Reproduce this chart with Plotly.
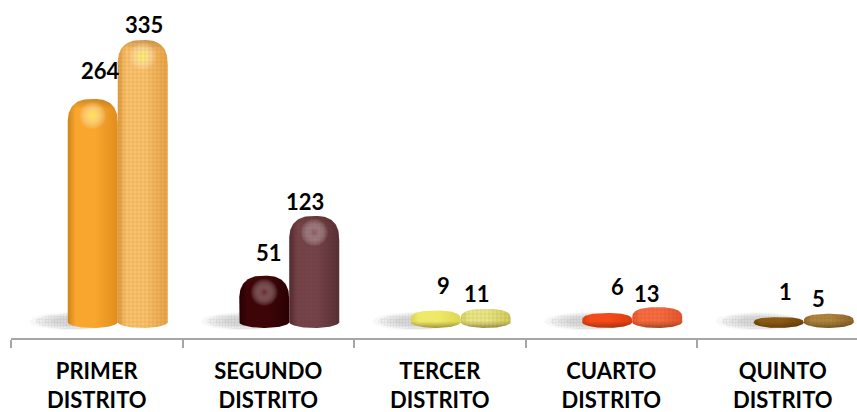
import numpy as np
import plotly.graph_objects as go

distritos = ["PRIMER<br>DISTRITO", "SEGUNDO<br>DISTRITO", "TERCER<br>DISTRITO", "CUARTO<br>DISTRITO", "QUINTO<br>DISTRITO"]
serie_a = [264, 51, 9, 6, 1]
serie_b = [335, 123, 11, 13, 5]

# (edge, centre, edge) colours
colores_a = [("#CF8419", "#F9A62E", "#E08D1C"), ("#250002", "#3E0508", "#2A0103"),
             ("#D9D24E", "#EFE969", "#DDD650"), ("#DB3A0C", "#F4491A", "#DE3C0E"),
             ("#6F4709", "#8A5B13", "#704809")]
colores_b = [("#DE9A3A", "#FCC26C", "#E9A547"), ("#532A2E", "#74444A", "#5A3034"),
             ("#D4D160", "#E9E683", "#CFCB5A"), ("#E8552A", "#F86C40", "#E5552A"),
             ("#93692A", "#AE853F", "#8F6627")]
brillo_a = ["#FFDF50", "#63282E", "#F8F39A", "#F7784A", "#A67A30"]
brillo_b = ["#FFF060", "#8A585E", "#F3F0A8", "#FF8E64", "#C39C58"]

desp_a = [(8, 28), (5, 23), (7.5, 25), (10, 27), (7, 26)]
desp_b = [(1, 15), (-9, 14), (-9, 15), (-10, 14), (-10, 15)]

PX_UNIT = 0.83
PASO = 171.5
ANCHO = 50 / PASO
C_A = -4.0 / PASO
C_B = 46.0 / PASO
FONDO = -12.0


def perfil(xc, v):
    """Outline of a rounded column from the bar's value, in axis units."""
    alto = v - FONDO
    tapa = min(30.0, alto / 2)
    pie = min(7.0, alto / 2)
    t = np.linspace(0, np.pi, 60)
    e = 2 / 2.6
    xs = np.cos(t)
    ys = v - tapa + tapa * np.abs(np.sin(t)) ** e
    xu = np.sign(xs) * np.abs(xs) ** e
    x_sup = xc + ANCHO / 2 * xu
    x_inf = xc - ANCHO / 2 * np.cos(t)
    y_inf = FONDO + pie - pie * np.sin(t)
    return np.r_[x_sup, x_inf], np.r_[ys, y_inf]


def elipse(xc, yc, rx, ry):
    t = np.linspace(0, 2 * np.pi, 50)
    return xc + rx * np.cos(t), yc + ry * np.sin(t)


fig = go.Figure()

# floor shadows
for i in range(len(distritos)):
    for esc, alfa in [(1.0, 0.07), (0.85, 0.09), (0.68, 0.11), (0.5, 0.12)]:
        x, y = elipse(i - 24 / PASO, -4.0, 43 / PASO * esc, 11.0 * esc)
        fig.add_trace(go.Scatter(x=x, y=y, mode="lines", line=dict(width=0), fill="toself",
                                 fillcolor=f"rgba(140,140,140,{alfa})", hoverinfo="skip", showlegend=False))
    x, y = elipse(i - 24 / PASO, -4.0, 38 / PASO, 9.5)
    fig.add_trace(go.Scatter(x=x, y=y, mode="lines", line=dict(width=0), fill="toself",
                             fillcolor="rgba(0,0,0,0)",
                             fillpattern=dict(shape="+", size=3, solidity=0.3, fgcolor="rgba(110,110,110,0.3)",
                                              bgcolor="rgba(0,0,0,0)"),
                             hoverinfo="skip", showlegend=False))


def capa(x, y, grad):
    fig.add_trace(go.Scatter(x=x, y=y, mode="lines", line=dict(width=0), fill="toself",
                             fillgradient=grad, hoverinfo="skip", showlegend=False))


def columna(xc, v, cols, brillo, trama):
    x, y = perfil(xc, v)
    esc = [[0, cols[0]], [0.16, cols[1]], [0.55, cols[1]], [1, cols[2]]]
    capa(x, y, dict(type="horizontal", colorscale=esc))
    if v > 40:
        capa(x, y, dict(type="vertical", start=v - 12, stop=v,
                        colorscale=[[0, "rgba(60,25,0,0)"], [1, "rgba(60,25,0,0.22)"]]))
        fig.add_trace(go.Scatter(x=[xc], y=[v - 20], mode="markers", hoverinfo="skip", showlegend=False,
                                 marker=dict(size=28, color="rgba(255,255,255,0)", line=dict(width=0),
                                             gradient=dict(type="radial", color=brillo))))
    if trama:
        fig.add_trace(go.Scatter(x=x, y=y, mode="lines", line=dict(width=0), fill="toself",
                                 fillcolor="rgba(0,0,0,0)",
                                 fillpattern=dict(shape="+", size=4, solidity=0.25, fgcolor="rgba(60,20,0,0.3)",
                                                  bgcolor="rgba(0,0,0,0)"),
                                 hoverinfo="skip", showlegend=False))
    if v <= 40:
        capa(x, y, dict(type="vertical", start=FONDO, stop=FONDO + 8,
                        colorscale=[[0, "rgba(50,20,0,0.4)"], [1, "rgba(50,20,0,0)"]]))


for i, (a, b) in enumerate(zip(serie_a, serie_b)):
    columna(i + C_A, a, colores_a[i], brillo_a[i], False)
    columna(i + C_B, b, colores_b[i], brillo_b[i], True)

anot = []
for i in range(len(distritos)):
    for xc, v, d in [(i + C_A, serie_a[i], desp_a[i]), (i + C_B, serie_b[i], desp_b[i])]:
        anot.append(dict(x=xc, y=v, text=str(v), showarrow=False, xshift=d[0], yshift=d[1],
                         xanchor="center", yanchor="middle",
                         font=dict(family="Lato", size=22, color="#000000", weight="bold")))

fig.update_layout(
    width=857, height=412, autosize=False,
    margin=dict(l=11, r=0, t=0, b=74),
    paper_bgcolor="#FFFFFF", plot_bgcolor="#FFFFFF",
    showlegend=False, annotations=anot,
    font=dict(family="Lato", size=22, color="#000000", weight="bold"),
    xaxis=dict(range=[-0.5, -0.5 + 846 / PASO], tickmode="array", tickvals=list(range(5)), ticktext=distritos,
               automargin=False,
               showgrid=False, zeroline=False, showline=True, linecolor="#A6A6A6", linewidth=2,
               ticks="outside", ticklen=13, tickcolor="rgba(0,0,0,0)", tickwidth=1,
               tickfont=dict(family="Lato", size=22, color="#000000", weight="bold"),
               minor=dict(tickmode="linear", tick0=-0.5, dtick=1, ticks="outside", ticklen=8,
                          tickcolor="#A6A6A6", tickwidth=2, showgrid=False)),
    yaxis=dict(range=[-20 / PX_UNIT, 318 / PX_UNIT], visible=False, automargin=False),
)
fig.write_html("out.html", config=dict(displayModeBar=False),
               post_script="document.documentElement.style.overflow='hidden';document.body.style.margin='0';")
